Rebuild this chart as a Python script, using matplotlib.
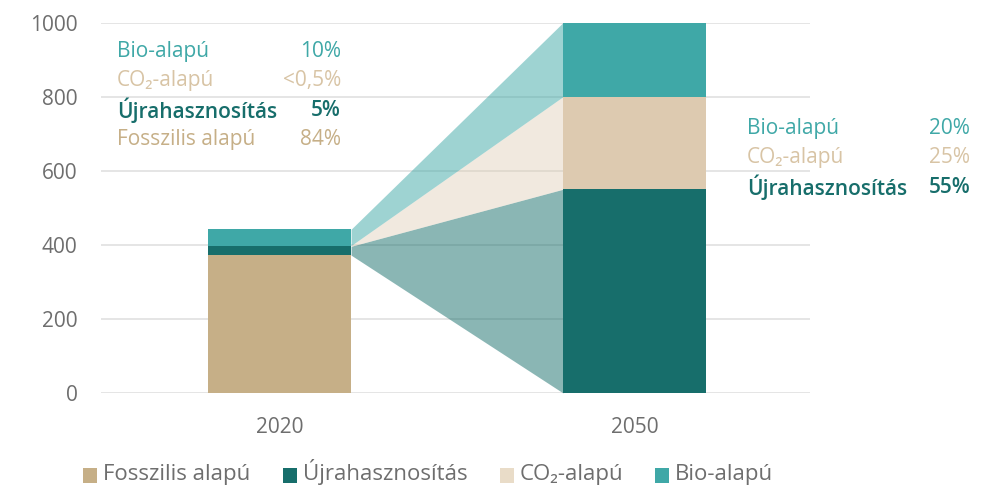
import numpy as np
import matplotlib.pyplot as plt
from matplotlib.patches import Rectangle

# data
years = ["2020", "2050"]
fosszilis = [372, 0]
ujrahasznositas = [24, 550]
co2 = [2, 250]
bio = [44, 200]

series_names = ["Fosszilis alapú", "Újrahasznosítás", "CO₂-alapú", "Bio-alapú"]
bar_colors = ["#c6af87", "#176e6b", "#ddcab0", "#3fa8a7"]
legend_colors = ["#c6af87", "#176e6b", "#e9dcc8", "#3fa8a7"]
fan_alpha = [0.5, 0.5, 0.4, 0.5]

labels_2020 = ["Bio-alapú", "CO₂-alapú", "Újrahasznosítás", "Fosszilis alapú"]
values_2020 = ["10%", "<0,5%", "5%", "84%"]
labels_2050 = ["Bio-alapú", "CO₂-alapú", "Újrahasznosítás"]
values_2050 = ["20%", "25%", "55%"]
text_colors = {"Bio-alapú": "#3fa8a7", "CO₂-alapú": "#d8c4a5",
               "Újrahasznosítás": "#176e6b", "Fosszilis alapú": "#c6af87"}

FONT = ["Open Sans", "DejaVu Sans"]
plt.rcParams["font.family"] = FONT
GRAY = "#6e6e6e"

W, H = 998, 486
fig = plt.figure(figsize=(W / 100, H / 100), dpi=100)
ax = fig.add_axes([0.1012, 0.1914, 0.7104, 0.7623])

x = np.arange(len(years))
width = 0.403
stack = [fosszilis, ujrahasznositas, co2, bio]
bottom = np.zeros(len(years))
bottoms = []
for vals, col in zip(stack, bar_colors):
    ax.bar(x, vals, width, bottom=bottom, color=col, zorder=3)
    bottoms.append(bottom.copy())
    bottom = bottom + np.array(vals)

# fans connecting the 2020 segments to the 2050 segments
xf = [x[0] + width / 2, x[1] - width / 2]
for i in range(1, len(stack)):
    lo = bottoms[i]
    hi = bottoms[i] + np.array(stack[i])
    ax.fill_between(xf, lo, hi, color=bar_colors[i], alpha=fan_alpha[i],
                    linewidth=0, zorder=2)

ax.set_xlim(-0.503, 1.494)
ax.set_ylim(0, 1000)
ax.set_yticks(np.arange(0, 1001, 200))
ax.set_xticks(x)
ax.set_xticklabels(years)
ax.grid(axis="y", color="#e0e0e0", linewidth=1.2, zorder=0)
ax.set_axisbelow(True)
for s in ax.spines.values():
    s.set_visible(False)
ax.tick_params(axis="y", length=0, pad=17, labelsize=15, labelcolor=GRAY)
ax.tick_params(axis="x", length=0, pad=17, labelsize=15, labelcolor=GRAY)

# side annotations
for k, (lab, val) in enumerate(zip(labels_2020, values_2020)):
    y = 923 - k * 80
    w = "semibold" if lab == "Újrahasznosítás" else "normal"
    ax.text(-0.458, y, lab, color=text_colors[lab], fontsize=15,
            fontweight=w, va="center", ha="left")
    ax.text(0.173, y, val, color=text_colors[lab], fontsize=15,
            fontweight=w, va="center", ha="right")

for k, (lab, val) in enumerate(zip(labels_2050, values_2050)):
    y = 715 - k * 80
    w = "semibold" if lab == "Újrahasznosítás" else "normal"
    ax.text(1.317, y, lab, color=text_colors[lab], fontsize=15,
            fontweight=w, va="center", ha="left")
    ax.text(1.945, y, val, color=text_colors[lab], fontsize=15,
            fontweight=w, va="center", ha="right")

# legend row along the bottom (pixel positions)
sq_x = [83, 283, 500, 655]
for name, col, sx in zip(series_names, legend_colors, sq_x):
    fig.patches.append(Rectangle((sx / W, 1 - 483 / H), 14 / W, 15 / H,
                                 transform=fig.transFigure, facecolor=col,
                                 edgecolor="none"))
    fig.text((sx + 20) / W, 1 - 480 / H, name, color=GRAY, fontsize=16,
             ha="left", va="baseline")

fig.savefig("out.png", dpi=100)
